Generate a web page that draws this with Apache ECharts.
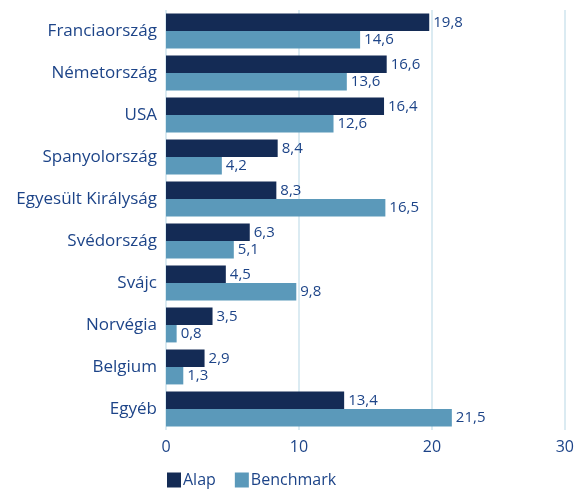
<!DOCTYPE html>
<html>
<head>
<meta charset="utf-8">
<script src="https://cdn.jsdelivr.net/npm/echarts@6/dist/echarts.min.js"></script>
<style>
  html, body { margin: 0; padding: 0; background: #fff; }
  #chart { width: 577px; height: 490px; }
</style>
</head>
<body>
<div id="chart"></div>
<script>
// adatok
const categories = ["Franciaország", "Németország", "USA", "Spanyolország", "Egyesült Királyság",
  "Svédország", "Svájc", "Norvégia", "Belgium", "Egyéb"];
const alap = [19.8, 16.6, 16.4, 8.4, 8.3, 6.3, 4.5, 3.5, 2.9, 13.4];
const benchmark = [14.6, 13.6, 12.6, 4.2, 16.5, 5.1, 9.8, 0.8, 1.3, 21.5];
const xTicks = [0, 10, 20, 30];

const textColor = "#1d4488";
const fontFamily = "'Open Sans', Lato, sans-serif";

const chart = echarts.init(document.getElementById("chart"));

const labelOpt = {
  show: true,
  position: "right",
  distance: 4,
  color: textColor,
  fontSize: 15,
  fontFamily: fontFamily,
  formatter: (p) => p.value.toFixed(1).replace(".", ","),
};

const option = {
  animation: false,
  grid: {
    left: 166,
    right: 12,
    top: 10,
    bottom: 60,
  },
  legend: {
    data: ["Alap", "Benchmark"],
    left: 167,
    top: 472,
    padding: 0,
    itemWidth: 14,
    itemHeight: 15,
    itemGap: 19,
    icon: "rect",
    textStyle: { color: textColor, fontSize: 16, fontFamily: fontFamily, padding: [0, 0, 0, -3] },
  },
  xAxis: {
    type: "value",
    min: 0,
    max: 30,
    interval: 10,
    axisLine: { show: false },
    axisTick: { show: false },
    splitLine: { show: true, lineStyle: { color: "#cfe4ee", width: 1.5 } },
    axisLabel: {
      color: textColor,
      fontSize: 16,
      fontFamily: fontFamily,
      margin: 9,
      formatter: (v) => (xTicks.includes(v) ? String(v) : ""),
    },
  },
  yAxis: {
    type: "category",
    data: categories,
    inverse: true,
    axisLine: { show: false },
    axisTick: { show: false },
    axisLabel: {
      color: textColor,
      fontSize: 17,
      fontFamily: fontFamily,
      margin: 9,
    },
  },
  series: [
    {
      name: "Alap",
      type: "bar",
      data: alap,
      barGap: "0%",
      barCategoryGap: "17%",
      itemStyle: { color: "#142b55" },
      label: labelOpt,
    },
    {
      name: "Benchmark",
      type: "bar",
      data: benchmark,
      itemStyle: { color: "#5b99ba" },
      label: labelOpt,
    },
  ],
};

chart.setOption(option);
</script>
</body>
</html>
